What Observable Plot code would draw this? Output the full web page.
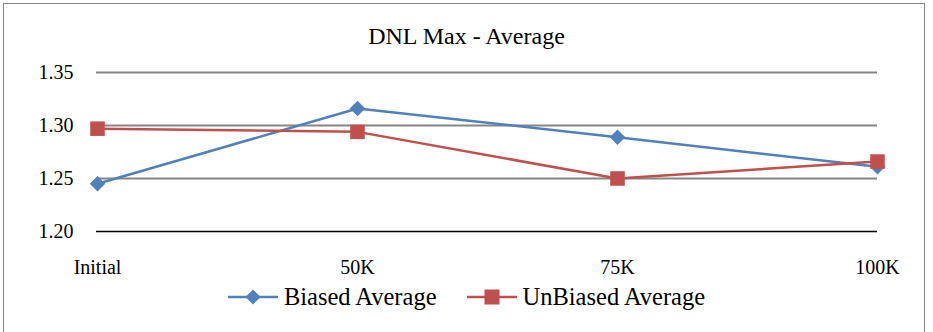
<!DOCTYPE html>
<html>
<head>
<meta charset="utf-8">
<script src="https://cdn.jsdelivr.net/npm/d3@7"></script>
<script src="https://cdn.jsdelivr.net/npm/@observablehq/plot@0.6"></script>
<style>
  html, body { margin: 0; padding: 0; background: #fff; }
  #wrap { position: relative; width: 933px; height: 332px; overflow: hidden; background: #fff;
          font-family: "Liberation Serif", "Times New Roman", serif; color: #000; }
  #frame { position: absolute; left: 3px; top: 3px; width: 922px; height: 340px; border: 1.5px solid #868686; box-sizing: border-box; }
  #title { position: absolute; left: 0; width: 933px; top: 23px; text-align: center; font-size: 24px; line-height: 26px; font-family: "Liberation Serif", serif; }
  #chart { position: absolute; left: 0; top: 0; }
  #legend { position: absolute; left: 0; width: 933px; top: 283px; display: flex; justify-content: center; align-items: center; gap: 30px; font-size: 24.5px; line-height: 28px; font-family: "Liberation Serif", serif; }
  .item { display: flex; align-items: center; gap: 6px; }
</style>
</head>
<body>
<div id="wrap">
  <div id="frame"></div>
  <div id="chart"></div>
  <div id="title">DNL Max - Average</div>
  <div id="legend"></div>
</div>
<script>
const categories = ["Initial", "50K", "75K", "100K"];
const seriesNames = ["Biased Average", "UnBiased Average"];
const biased = [1.245, 1.316, 1.289, 1.261];
const unbiased = [1.297, 1.294, 1.250, 1.266];
const yTicks = [1.20, 1.25, 1.30, 1.35];
const colors = ["#4F81BD", "#C0504D"];

const biasedRows = categories.map((c, i) => ({cat: c, value: biased[i], series: seriesNames[0]}));
const unbiasedRows = categories.map((c, i) => ({cat: c, value: unbiased[i], series: seriesNames[1]}));

const chart = Plot.plot({
  width: 933,
  height: 282,
  marginLeft: 96,
  marginRight: 56,
  marginTop: 72,
  marginBottom: 51,
  style: {fontFamily: "'Liberation Serif', 'Times New Roman', serif", fontSize: "20px", background: "transparent", color: "#000", overflow: "visible"},
  x: {type: "point", domain: categories, padding: 0, label: null},
  y: {domain: [1.2, 1.35], label: null},
  marks: [
    Plot.ruleY(yTicks.filter(t => t > 1.2), {stroke: "#868686", strokeWidth: 2}),
    Plot.ruleY([1.2], {stroke: "#000", strokeWidth: 1.5}),
    Plot.axisY(yTicks, {tickSize: 0, tickPadding: 23, tickFormat: d => d.toFixed(2), label: null, fontSize: 20}),
    Plot.axisX({tickSize: 0, tickPadding: 28, label: null, fontSize: 20}),
    Plot.line(biasedRows, {x: "cat", y: "value", stroke: colors[0], strokeWidth: 2.5}),
    Plot.line(unbiasedRows, {x: "cat", y: "value", stroke: colors[1], strokeWidth: 2.5}),
    Plot.dot(biasedRows, {x: "cat", y: "value", fill: colors[0], symbol: "diamond2", r: 7}),
    Plot.dot(unbiasedRows, {x: "cat", y: "value", fill: colors[1], symbol: "square", r: 8.2})
  ]
});
document.getElementById("chart").appendChild(chart);

const legend = document.getElementById("legend");
seriesNames.forEach((name, i) => {
  const item = document.createElement("div");
  item.className = "item";
  const marker = i === 0
    ? `<path d="M25,3.5 L32.5,11 L25,18.5 L17.5,11 Z" fill="${colors[i]}"/>`
    : `<rect x="17.5" y="3.5" width="15" height="15" fill="${colors[i]}"/>`;
  item.innerHTML = `<svg width="50" height="22"><line x1="0" y1="11" x2="50" y2="11" stroke="${colors[i]}" stroke-width="2.5"/>${marker}</svg><span>${name}</span>`;
  legend.appendChild(item);
});
</script>
</body>
</html>
